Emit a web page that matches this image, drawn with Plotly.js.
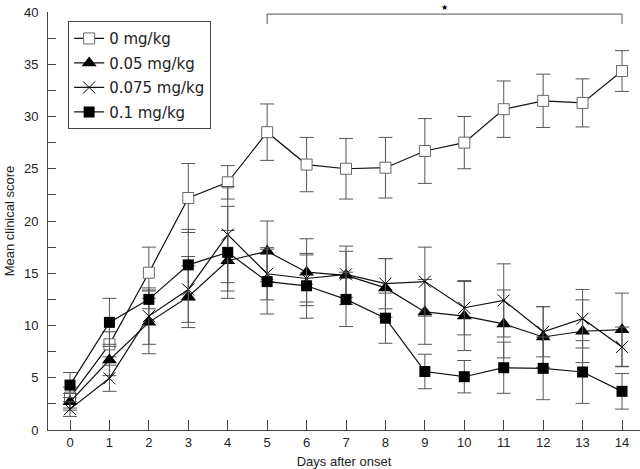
<!DOCTYPE html>
<html><head><meta charset="utf-8">
<script src="https://cdn.plot.ly/plotly-3.0.1.min.js"></script>
<style>body{margin:0;background:#fff}#c{width:640px;height:469px}</style>
</head><body><div id="c"></div>
<script>
const days = [0,1,2,3,4,5,6,7,8,9,10,11,12,13,14];
const seriesNames = ['0 mg/kg','0.05 mg/kg','0.075 mg/kg','0.1 mg/kg'];
const mean0 = [3.1,8.2,15.05,22.2,23.7,28.5,25.4,25.0,25.1,26.7,27.5,30.7,31.5,31.3,34.35];
const err0  = [1.0,1.2,2.45,3.3,1.6,2.7,2.6,2.9,2.9,3.1,2.5,2.7,2.55,2.3,1.95];
const mean005 = [2.7,6.7,10.3,12.75,16.2,17.1,15.1,14.8,13.6,11.3,10.9,10.15,8.9,9.45,9.6];
const err005  = [0.8,1.5,3.0,2.95,2.9,2.9,3.2,2.8,2.8,3.1,3.3,3.25,2.9,3.0,3.5];
const mean0075 = [2.0,4.95,10.9,13.45,18.7,14.95,14.5,14.9,14.0,14.2,11.7,12.4,9.4,10.65,7.95];
const err0075  = [0.7,1.25,2.7,3.15,4.6,2.5,2.25,2.2,2.4,3.3,2.6,3.5,2.4,2.8,1.9];
const mean01 = [4.3,10.3,12.5,15.8,17.0,14.2,13.8,12.5,10.7,5.6,5.1,5.96,5.9,5.55,3.7];
const err01  = [1.2,2.3,0.9,3.4,4.4,3.1,3.1,2.6,2.4,1.65,1.55,2.45,3.0,3.0,1.7];

const eb = arr => ({type:'data', array:arr, visible:true, color:'#555', thickness:1, width:7});
const line = {color:'#111', width:1.2};
const traces = [
  {x:days, y:mean0, name:seriesNames[0], legendgroup:'a', mode:'lines+markers', line:line, error_y:eb(err0),
   marker:{symbol:'square', size:11, color:'#fff', line:{color:'#666', width:1}}},
  {x:days, y:mean005, name:seriesNames[1], legendgroup:'b', mode:'lines+markers', line:line, error_y:eb(err005),
   marker:{symbol:'triangle-up', size:13, color:'#000'}},
  {x:days, y:mean0075, name:seriesNames[2], legendgroup:'c', mode:'lines+markers', line:line, error_y:eb(err0075),
   marker:{symbol:'x-thin', size:12, color:'#000', line:{color:'#000', width:1}}},
  {x:days, y:mean01, name:seriesNames[3], legendgroup:'d', mode:'lines+markers', line:line, error_y:eb(err01),
   marker:{symbol:'square', size:11, color:'#000'}}
];
const fontFam = 'Liberation Sans, Arial, sans-serif';
const layout = {
  width:640, height:469,
  margin:{l:48, r:0, t:12, b:39},
  paper_bgcolor:'#fff', plot_bgcolor:'#fff',
  font:{family:fontFam, size:13, color:'#222'},
  showlegend:true,
  legend:{x:0.034, y:0.978, xanchor:'left', yanchor:'top', bgcolor:'#fff',
          bordercolor:'#444', borderwidth:1, tracegroupgap:2,
          font:{family:'DejaVu Sans, sans-serif', size:15, color:'#222'}},
  xaxis:{range:[-0.558,14.456], tickmode:'array', tickvals:days, ticks:'inside', ticklen:10,
         tickcolor:'#444', showline:true, linecolor:'#444', linewidth:1, showgrid:false,
         zeroline:false, tickfont:{size:13},
         title:{text:'Days after onset', font:{size:13}, standoff:8}},
  yaxis:{range:[0,40], dtick:5, ticks:'inside', ticklen:8, tickcolor:'#444',
         minor:{dtick:2.5, ticks:'inside', ticklen:8, tickcolor:'#444'},
         showline:true, linecolor:'#444', linewidth:1, showgrid:false, zeroline:false,
         tickfont:{size:13}, ticklabelstandoff:6,
         title:{text:'Mean clinical score', font:{size:13}, standoff:6}},
  shapes:[
    {type:'path', xref:'x', yref:'y', path:'M 5 38.85 L 5 39.8 L 14 39.8 L 14 38.85',
     line:{color:'#555', width:1}}
  ],
  annotations:[
    {x:9.5, y:1, xref:'x', yref:'paper', yanchor:'bottom', yshift:-2, text:'★', showarrow:false,
     font:{family:'DejaVu Sans, sans-serif', size:8, color:'#000'}}
  ]
};
Plotly.newPlot('c', traces, layout, {displayModeBar:false, staticPlot:true});
</script></body></html>
